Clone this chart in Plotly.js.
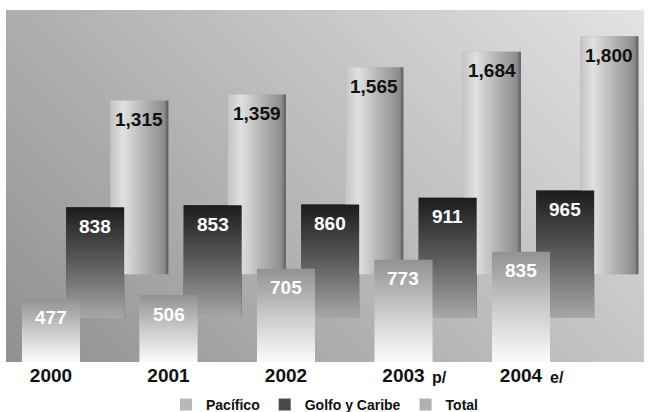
<!DOCTYPE html>
<html><head><meta charset="utf-8">
<script src="https://cdn.plot.ly/plotly-3.0.1.min.js"></script>
<style>html,body{margin:0;padding:0;background:#fff}#chart{width:650px;height:412px}</style>
</head><body><div id="chart"></div>
<script>
// ---- data ----
const years = ['2000', '2001', '2002', '2003', '2004'];
const yearNotes = ['', '', '', 'p/', 'e/'];
const seriesNames = ['Pacífico', 'Golfo y Caribe', 'Total'];
const pacifico = [477, 506, 705, 773, 835];
const golfo = [838, 853, 860, 911, 965];
const total = [1315, 1359, 1565, 1684, 1800];

// ---- styles (3D depth emulation) ----
const FONT = 'Liberation Sans, Arial, sans-serif';
const depthDX = 0.376;     // x shift per depth row (category units)
const depthBase = 332;     // y lift per depth row (value units)
const barW = 0.494;
const series = [
  {name: seriesNames[0], values: pacifico, depth: 0, orient: 'vertical',
   scale: [[0, '#fbfbfb'], [0.45, '#cfcfcf'], [1, '#929292']], swatch: '#b8b8b8', textColor: '#ffffff'},
  {name: seriesNames[1], values: golfo, depth: 1, orient: 'vertical',
   scale: [[0, '#a8a8a8'], [0.5, '#5c5c5c'], [1, '#1c1c1c']], swatch: '#4a4a4a', textColor: '#ffffff'},
  {name: seriesNames[2], values: total, depth: 2, orient: 'horizontal',
   scale: [[0, '#c4c4c4'], [0.22, '#e0e0e0'], [0.6, '#b2b2b2'], [0.93, '#8c8c8c'], [1, '#5a5a5a']], swatch: '#b0b0b0', textColor: '#111111'}
];

const xs = years.map((_, i) => i);
const fmt = v => v.toLocaleString('en-US');

const traces = [];
// legend-carrying bars (covered by gradient faces)
series.forEach(s => {
  traces.push({
    type: 'bar', name: s.name,
    x: xs.map(i => i + s.depth * depthDX),
    y: s.values, base: s.depth * depthBase, width: barW,
    marker: {color: s.swatch, line: {width: 0}},
    hoverinfo: 'skip'
  });
});
// gradient faces: back row first
[...series].reverse().forEach(s => {
  s.values.forEach((v, i) => {
    const c = i + s.depth * depthDX, b = s.depth * depthBase;
    traces.push({
      type: 'scatter', mode: 'lines', showlegend: false, hoverinfo: 'skip',
      x: [c - barW / 2, c + barW / 2, c + barW / 2, c - barW / 2, c - barW / 2],
      y: [b, b, b + v, b + v, b],
      fill: 'toself', line: {width: 0},
      fillgradient: {type: s.orient, colorscale: s.scale}
    });
  });
});

const annotations = [];
series.forEach(s => {
  s.values.forEach((v, i) => {
    annotations.push({
      x: i + s.depth * depthDX, y: s.depth * depthBase + v, xref: 'x', yref: 'y',
      text: fmt(v), showarrow: false, yanchor: 'middle', yshift: -19,
      font: {family: FONT, size: 19, weight: 'bold', color: s.textColor}
    });
  });
});
yearNotes.forEach((n, i) => {
  if (!n) return;
  annotations.push({
    x: i, y: 0, xref: 'x', yref: 'paper', text: n, showarrow: false,
    xanchor: 'left', yanchor: 'middle', xshift: 27, yshift: -15,
    font: {family: FONT, size: 16, weight: 'bold', color: '#111'}
  });
});

const bgSvg = "<svg xmlns='http://www.w3.org/2000/svg' width='638' height='352' viewBox='0 0 638 352' preserveAspectRatio='none'>" +
  "<defs><linearGradient id='g' gradientUnits='userSpaceOnUse' x1='0' y1='352' x2='495' y2='-143'>" +
  "<stop offset='0' stop-color='#909090'/><stop offset='1' stop-color='#e3e3e3'/></linearGradient></defs>" +
  "<rect width='638' height='352' fill='url(#g)'/></svg>";

const layout = {
  width: 650, height: 412,
  margin: {l: 6, r: 6, t: 10, b: 50, autoexpand: false},
  paper_bgcolor: '#ffffff', plot_bgcolor: 'rgba(0,0,0,0)',
  barmode: 'overlay',
  showlegend: true,
  legend: {orientation: 'h', x: 0.5, xanchor: 'center', y: -0.122, yanchor: 'middle',
           font: {family: FONT, size: 14, weight: 'bold', color: '#111'}, bgcolor: 'rgba(0,0,0,0)',
           traceorder: 'normal', itemclick: false},
  xaxis: {range: [-0.383, 5.047], tickmode: 'array', tickvals: xs, ticktext: years,
          tickfont: {family: FONT, size: 19, weight: 'bold', color: '#111'},
          ticks: '', automargin: false,
          showgrid: false, zeroline: false, showline: false, fixedrange: true},
  yaxis: {range: [0, 2663], showgrid: false, zeroline: false, showline: false,
          showticklabels: false, ticks: '', fixedrange: true, automargin: false},
  images: [{source: 'data:image/svg+xml;base64,' + btoa(bgSvg), xref: 'paper', yref: 'paper',
            x: 0, y: 1, sizex: 1, sizey: 1, xanchor: 'left', yanchor: 'top', sizing: 'stretch', layer: 'below'}],
  annotations: annotations
};

Plotly.newPlot('chart', traces, layout, {displayModeBar: false, staticPlot: true});
</script>
</body></html>
